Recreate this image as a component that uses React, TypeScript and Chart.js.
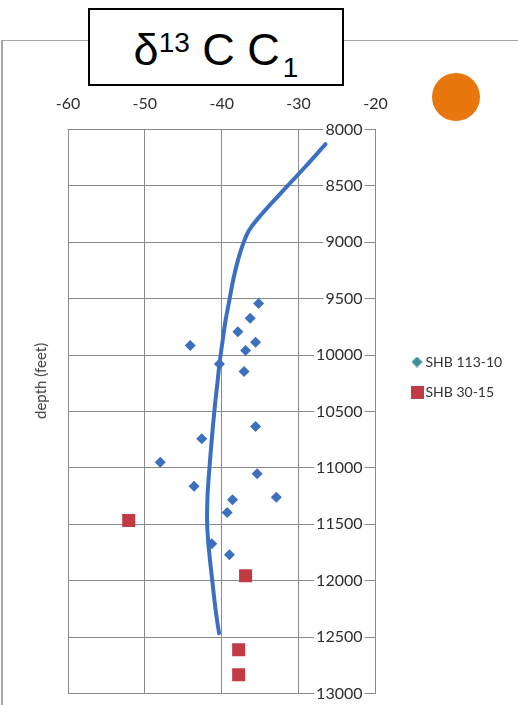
import React, { useEffect, useRef } from 'react';
import { Chart, registerables } from 'chart.js';

Chart.register(...registerables);

// ---- data ----
const xTickValues = [-60, -50, -40, -30, -20];
const depthTicksMin = 8000;
const depthTicksMax = 13000;
const depthStep = 500;

const shb113Label = 'SHB 113-10';
const shb113X = [-35.2, -36.3, -37.9, -44.1, -35.6, -36.9, -40.3, -37.1, -35.6, -42.6, -48.0, -35.4, -43.6, -38.6, -32.9, -39.3, -41.3, -39.0];
const shb113Depth = [9543, 9673, 9792, 9916, 9886, 9960, 10078, 10146, 10633, 10742, 10949, 11052, 11162, 11283, 11261, 11395, 11673, 11770];

const shb30Label = 'SHB 30-15';
const shb30X = [-52.1, -36.9, -37.8, -37.8];
const shb30Depth = [11466, 11956, 12612, 12833];

const trendX = [-26.5, -29.4, -32.4, -35.3, -36.5, -37.2, -37.9, -38.5, -39.0, -39.5, -39.9, -40.3, -40.6, -40.9, -41.3, -41.6, -41.85, -41.9, -41.7, -41.25, -40.75, -40.35];
const trendDepth = [8130, 8350, 8570, 8790, 8900, 9010, 9160, 9330, 9510, 9690, 9880, 10080, 10270, 10455, 10750, 11000, 11250, 11490, 11700, 11990, 12285, 12465];

const yTitle = 'depth (feet)';

const BLUE = '#3d6fbf';
const RED = '#c23a44';
const LINE = '#3a70c2';
const GRID = '#8a8a8a';
const TEXT = '#2e2e2e';

function makeIcon(kind: 'diamond' | 'square', size: number, color: string) {
  const c = document.createElement('canvas');
  c.width = size;
  c.height = size;
  const g = c.getContext('2d')!;
  g.fillStyle = color;
  g.beginPath();
  if (kind === 'diamond') {
    g.moveTo(size / 2, 0);
    g.lineTo(size, size / 2);
    g.lineTo(size / 2, size);
    g.lineTo(0, size / 2);
    g.closePath();
  } else {
    g.rect(0, 0, size, size);
  }
  g.fill();
  return c;
}

export default function App() {
  const ref = useRef<HTMLCanvasElement>(null);

  useEffect(() => {
    const diamondIcon = makeIcon('diamond', 11, '#3d8f99');
    const squareIcon = makeIcon('square', 13, RED);
    const tickFont = { family: 'Lato', size: 16 };

    const chart = new Chart(ref.current!, {
      type: 'scatter',
      data: {
        datasets: [
          {
            label: shb113Label,
            data: shb113X.map((x, i) => ({ x, y: shb113Depth[i] })),
            pointStyle: 'rectRot',
            pointRadius: 5.5,
            backgroundColor: BLUE,
            borderColor: BLUE,
            borderWidth: 0,
          },
          {
            label: shb30Label,
            data: shb30X.map((x, i) => ({ x, y: shb30Depth[i] })),
            pointStyle: 'rect',
            pointRadius: 9.2,
            backgroundColor: RED,
            borderColor: RED,
            borderWidth: 0,
          },
          {
            label: 'trend',
            data: trendX.map((x, i) => ({ x, y: trendDepth[i] })),
            showLine: true,
            pointRadius: 0,
            borderColor: LINE,
            backgroundColor: LINE,
            borderWidth: 4,
            borderCapStyle: 'round',
            tension: 0.4,
          },
        ],
      },
      options: {
        responsive: false,
        animation: false,
        devicePixelRatio: 1,
        layout: { padding: { left: 68, right: 8, top: 60.5, bottom: 11.5 } },
        scales: {
          x: {
            type: 'linear',
            position: 'top',
            min: xTickValues[0],
            max: xTickValues[xTickValues.length - 1],
            afterBuildTicks: (s: any) => {
              s.ticks = xTickValues.map((v) => ({ value: v }));
            },
            ticks: { padding: 16, font: tickFont, color: TEXT },
            grid: { color: GRID, drawTicks: false, lineWidth: 1 },
            border: { display: true, color: GRID },
            afterFit: (s: any) => {
              s.height = 69;
            },
          },
          y: {
            type: 'linear',
            position: 'right',
            reverse: true,
            min: depthTicksMin,
            max: depthTicksMax,
            ticks: {
              stepSize: depthStep,
              mirror: true,
              padding: -13,
              showLabelBackdrop: true,
              backdropColor: '#ffffff',
              backdropPadding: { top: 0, bottom: 0, left: 2, right: 2 },
              font: tickFont,
              color: TEXT,
              callback: (v: any) => String(v),
            },
            grid: { color: GRID, drawTicks: false, lineWidth: 1 },
            border: { display: true, color: GRID },
            afterFit: (s: any) => {
              s.width = 24;
            },
          },
        },
        plugins: {
          legend: {
            position: 'right',
            labels: {
              usePointStyle: true,
              boxWidth: 3,
              boxHeight: 14,
              padding: 16,
              font: { family: 'Lato', size: 14 },
              color: '#333333',
              generateLabels: (c: any) =>
                (Chart.defaults.plugins.legend.labels.generateLabels as any)(c).map((it: any) => ({
                  ...it,
                  pointStyle: it.datasetIndex === 0 ? diamondIcon : squareIcon,
                })),
              filter: (it: any) => it.datasetIndex < 2,
            },
          },
          tooltip: { enabled: false },
        },
      },
    } as any);
    return () => chart.destroy();
  }, []);

  return (
    <div
      style={{
        position: 'absolute',
        left: 0,
        top: 0,
        width: 518,
        height: 705,
        background: '#ffffff',
        overflow: 'hidden',
      }}
    >
      <div
        style={{
          position: 'absolute',
          left: 1,
          top: 40,
          width: 600,
          height: 800,
          borderTop: '1.5px solid #a6a6a6',
          borderLeft: '2px solid #a6a6a6',
        }}
      />
      <canvas ref={ref} width={518} height={705} style={{ position: 'absolute', left: 0, top: 0 }} />
      <div
        style={{
          position: 'absolute',
          left: 40,
          top: 381,
          transform: 'translate(-50%, -50%) rotate(-90deg)',
          fontFamily: 'Lato',
          fontSize: 15,
          color: '#404040',
          whiteSpace: 'nowrap',
        }}
      >
        {yTitle}
      </div>
      <div
        style={{
          position: 'absolute',
          left: 88,
          top: 8,
          width: 256,
          height: 78,
          boxSizing: 'border-box',
          border: '2px solid #000',
          background: '#fff',
        }}
      >
        <div
          style={{
            position: 'absolute',
            left: 0,
            right: 0,
            top: 17,
            textAlign: 'center',
            fontFamily: '"Liberation Sans", Arial, sans-serif',
            fontSize: 45,
            lineHeight: '45px',
            color: '#000',
            whiteSpace: 'nowrap',
          }}
        >
          δ<span style={{ fontSize: 28, position: 'relative', top: -13.3 }}>13</span> C C
          <span style={{ fontSize: 28, position: 'relative', top: 11.7, marginLeft: 3 }}>1</span>
        </div>
      </div>
      <div
        style={{
          position: 'absolute',
          left: 432,
          top: 73,
          width: 48,
          height: 48,
          borderRadius: '50%',
          background: '#e8770d',
        }}
      />
    </div>
  );
}
